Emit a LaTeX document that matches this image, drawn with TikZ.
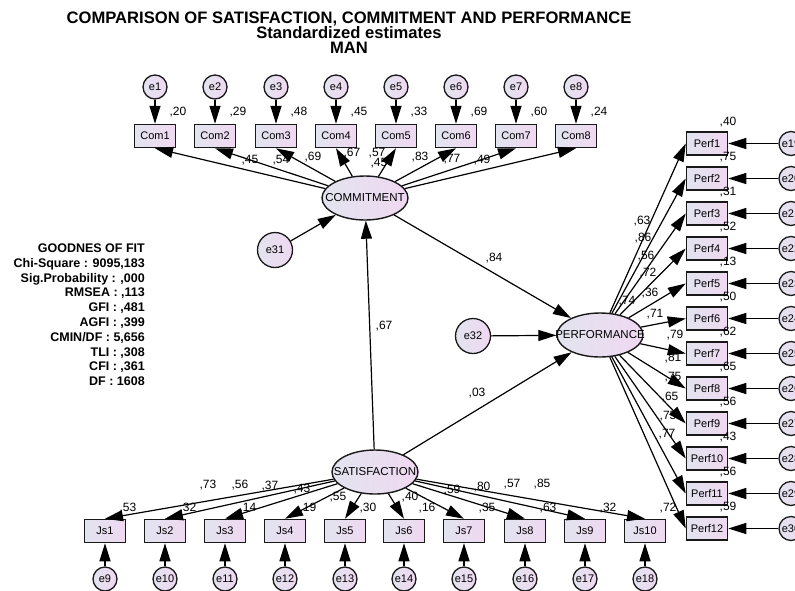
\documentclass[tikz,border=0pt]{standalone}
\usepackage{fontspec}
\setmainfont{Liberation Sans}
\usepackage{xcolor}
\usepackage{tikz}
\usetikzlibrary{arrows.meta,shapes.geometric}

\definecolor{fillL}{HTML}{E2E4EF}
\definecolor{fillR}{HTML}{EFD8F1}

\tikzset{
  obs/.style={draw=black!90,line width=1.5pt,left color=fillL,right color=fillR,
    minimum width=41pt,minimum height=23pt,inner sep=0pt,font=\fontsize{11}{12}\selectfont},
  err/.style={circle,draw=black!90,line width=1.3pt,left color=fillL,right color=fillR,
    minimum size=24pt,inner sep=0pt,font=\fontsize{11}{12}\selectfont},
  bigerr/.style={err,minimum size=35pt},
  lat/.style={ellipse,draw=black!90,line width=1.4pt,left color=fillL,right color=fillR,
    minimum width=86pt,minimum height=44pt,inner sep=0pt},
  lattext/.style={inner sep=0pt,font=\fontsize{11.5}{12}\selectfont},
  reg/.style={line width=1.2pt,-{Triangle[length=18pt,width=11pt]}},
  est/.style={inner sep=0pt,font=\fontsize{12}{12}\selectfont},
  gof/.style={inner sep=0pt,anchor=base east,font=\fontsize{12.5}{14}\selectfont\bfseries},
  heading/.style={inner sep=0pt,anchor=base,font=\fontsize{16.6}{18}\selectfont\bfseries},
}

\begin{document}
\begin{tikzpicture}[x=1pt,y=-1pt]
  \useasboundingbox (0,0) rectangle (795,590);
  \clip (0,0) rectangle (795,590);

  \node[heading] (t1) at (349,23) {COMPARISON OF SATISFACTION, COMMITMENT AND PERFORMANCE};
  \node[heading] (t2) at (349,38) {Standardized estimates};
  \node[heading] (t3) at (349,53) {MAN};

  \foreach \i/\txt in {1/{GOODNES OF FIT},2/{Chi-Square : 9095,183},3/{Sig.Probability : ,000},
      4/{RMSEA : ,113},5/{GFI : ,481},6/{AGFI : ,399},7/{CMIN/DF : 5,656},
      8/{TLI : ,308},9/{CFI : ,361},10/{DF : 1608}}
    \node[gof] (g\i) at (145,{252.5+14.8*(\i-1)}) {\txt};

  \node[lat] (com) at (365,198) {};
  \node[lattext] (comt) at (com) {COMMITMENT};
  \node[lat] (perf) at (600,335) {};
  \node[lattext] (perft) at (perf) {PERFORMANCE};
  \node[lat] (sat) at (375,472) {};
  \node[lattext] (satt) at (sat) {SATISFACTION};

  \node[bigerr] (e31) at (275,250) {e31};
  \node[bigerr] (e32) at (473,336) {e32};
  \draw[reg] (e31) -- (com);
  \draw[reg] (e32) -- (perf);

  \node[est] (r1) at (379,163) {,45};
  \node[est] (r2) at (627,301) {,74};

  \node[est] (b1) at (494,258) {,84};
  \node[est] (b2) at (384,326) {,67};
  \node[est] (b3) at (477,393) {,03};
  \draw[reg] (com) -- (perf);
  \draw[reg] (sat) -- (com);
  \draw[reg] (sat) -- (perf);

  \foreach \i/\x/\v/\l/\lx/\ly in {1/155/20/45/250/160,2/215/29/54/281/160,
      3/276/48/69/313/157,4/336/45/67/352/153,5/396/33/57/377/153,
      6/456/69/83/420/157,7/516/60/77/452/159,8/576/24/49/482/160}{
    \node[obs] (com\i) at (\x,136) {Com\i};
    \node[err] (e\i) at (\x,87) {e\i};
    \node[est] (vc\i) at (\x+23,112) {,\v};
    \node[est] (lc\i) at (\lx,\ly) {,\l};
    \draw[reg] (e\i) -- (com\i);
    \draw[reg] (com) -- (com\i.south);
  }

  \foreach \i/\x/\v/\l/\lx/\ly in {1/105/53/73/208/485,2/165/32/56/240/485,
      3/225/14/37/270/486,4/285/19/43/302/489,5/345/30/55/338/497,
      6/404/16/40/410/497,7/464/35/59/452/490,8/525/63/80/482/487,
      9/585/32/57/512/484,10/645/72/85/542/484}{
    \pgfmathtruncatemacro{\j}{\i+8}
    \node[obs] (js\i) at (\x,531) {Js\i};
    \node[err] (e\j) at (\x,579) {e\j};
    \node[est] (vj\i) at (\x+23,508) {,\v};
    \node[est] (lj\i) at (\lx,\ly) {,\l};
    \draw[reg] (e\j) -- (js\i);
    \draw[reg] (sat) -- (js\i.north);
  }

  \foreach \i/\v/\l/\lx/\ly in {1/40/63/642/221,2/75/86/643/238,3/31/56/646/256,
      4/52/72/648/273,5/13/36/650/293,6/50/71/655/314,7/62/79/675/335,
      8/65/81/673/358,9/56/75/673/377,10/43/65/670/397,11/56/75/668/416,
      12/59/77/667/434}{
    \pgfmathtruncatemacro{\j}{\i+18}
    \node[obs] (pf\i) at (707,{143.5+35*(\i-1)}) {Perf\i};
    \node[err] (e\j) at (791,{143.5+35*(\i-1)}) {e\j};
    \node[est] (vp\i) at (728,{122+35*(\i-1)}) {,\v};
    \node[est] (lp\i) at (\lx,\ly) {,\l};
    \draw[reg] (e\j) -- (pf\i);
    \draw[reg] (perf) -- (pf\i.west);
  }
\end{tikzpicture}
\end{document}
